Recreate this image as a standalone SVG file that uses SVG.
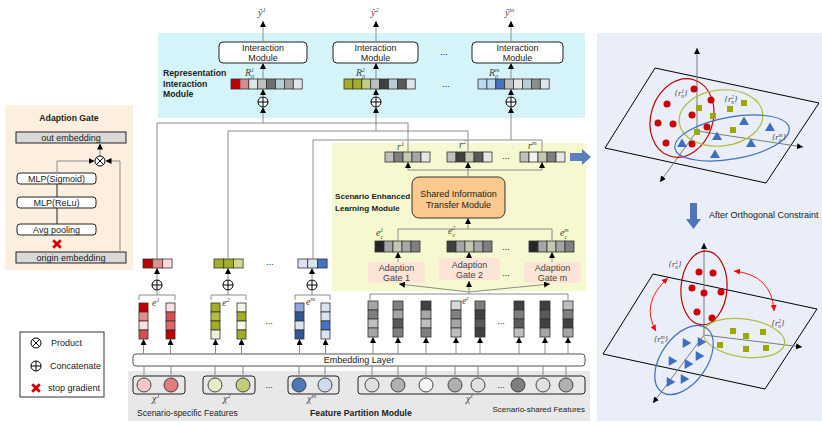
<svg xmlns="http://www.w3.org/2000/svg" width="822" height="423" viewBox="0 0 822 423">
<style>
text{font-family:"Liberation Sans","DejaVu Sans",sans-serif;font-size:9px;fill:#222}
.b{font-weight:bold;font-size:8.7px}
.m{text-anchor:middle}
.s{font-family:"Liberation Serif","DejaVu Serif",serif;font-style:italic;font-size:10px;fill:#444}
.t{font-family:"Liberation Serif","DejaVu Serif",serif;font-style:italic;font-size:8.5px;fill:#444;text-anchor:middle}
.g{fill:#444}
.ln{fill:none;stroke:#8c8c8c;stroke-width:1}
.bk{fill:none;stroke:#222;stroke-width:1}
.ar{fill:none;stroke:#8c8c8c;stroke-width:1;marker-end:url(#ah)}
.c rect{stroke:#333;stroke-width:0.8}
.box{fill:#fff;stroke:#222;stroke-width:1}
.gb{fill:#d9d9d9;stroke:#222;stroke-width:1}
.fc{stroke:#333;stroke-width:0.9}
.fb{fill:none;stroke:#222;stroke-width:1}
.gate{fill:#fce4d6}
.pl{fill:none;stroke:#000;stroke-width:1}
.ax{fill:none;stroke:#7a7a7a;stroke-width:1;marker-end:url(#ah)}
.re{fill:none;stroke:#c00000;stroke-width:1.2}
.oe{fill:none;stroke:#b3bb3a;stroke-width:1.2}
.be{fill:none;stroke:#3d6fc0;stroke-width:1.2}
.rr{fill:none;stroke:#f00;stroke-width:0.9;marker-start:url(#rh);marker-end:url(#rh)}
</style>
<defs>
<marker id="ah" markerUnits="userSpaceOnUse" markerWidth="6" markerHeight="6" viewBox="0 0 10 10" refX="10" refY="5" orient="auto"><path d="M0,0L10,5L0,10z" fill="#000"/></marker>
<marker id="rh" markerUnits="userSpaceOnUse" markerWidth="6" markerHeight="6" viewBox="0 0 10 10" refX="10" refY="5" orient="auto-start-reverse"><path d="M0,0L10,5L0,10z" fill="#f00"/></marker>
<g id="op"><circle r="5" fill="#fff" stroke="#000" stroke-width="1"/><path d="M-5,0H5M0,-5V5" stroke="#000" stroke-width="1"/></g>
<g id="ot"><circle r="5" fill="#fff" stroke="#000" stroke-width="1"/><path d="M-3.5,-3.5L3.5,3.5M-3.5,3.5L3.5,-3.5" stroke="#000" stroke-width="1"/></g>
<path id="rx" d="M-3.8,-3.8L3.8,3.8M-3.8,3.8L3.8,-3.8" stroke="#d40000" stroke-width="2.8"/>
<path id="tri" d="M0,-4.5L5,4L-5,4z" fill="#3d6fc0"/>
<rect id="sq" x="-3" y="-3" width="6" height="6" fill="#9ea700"/>
<circle id="dot" r="3.5" fill="#cc0000"/>
</defs>

<!-- backgrounds -->
<rect x="5" y="105" width="128" height="165" fill="#fcefdf"/>
<rect x="158" y="33" width="427" height="85" fill="#d5f4fa"/>
<rect x="332" y="143" width="254" height="148" fill="#f6f9cf"/>
<rect x="128" y="371" width="462" height="50" fill="#e8e8e8"/>
<rect x="597" y="33" width="225" height="388" fill="#e9eef8"/>

<!-- Adaption Gate detail -->
<g id="adaption-gate-detail">
<text class="b m" x="69" y="121">Adaption Gate</text>
<rect class="gb" x="16" y="132" width="110" height="11"/>
<text class="m" x="71" y="141">out embedding</text>
<rect class="box" x="17" y="173" width="79" height="11" rx="3"/>
<text class="m" x="56.5" y="181.5">MLP(Sigmoid)</text>
<rect class="box" x="17" y="197" width="79" height="11" rx="3"/>
<text class="m" x="56.5" y="205.5">MLP(ReLu)</text>
<rect class="box" x="17" y="224" width="79" height="11" rx="3"/>
<text class="m" x="56.5" y="232.5">Avg pooling</text>
<rect class="gb" x="16" y="252" width="110" height="11"/>
<text class="m" x="71" y="260.5">origin embedding</text>
<path class="bk" d="M57,184V197M57,208V224"/>
<use href="#rx" x="57" y="244"/>
<path class="ar" d="M57,173V161H94.5"/>
<path class="ar" d="M120,252V161H105.5"/>
<path class="ar" d="M100,156V143.5"/>
<use href="#ot" x="100" y="161"/>
</g>

<!-- legend -->
<g id="legend">
<rect x="20" y="332" width="84" height="65" fill="#fff" stroke="#333" stroke-width="1"/>
<use href="#ot" x="36" y="343"/>
<text x="51" y="346">Product</text>
<use href="#op" x="36" y="366"/>
<text x="50" y="369">Concatenate</text>
<use href="#rx" x="36" y="388"/>
<text x="48" y="391">stop gradient</text>
</g>

<!-- Representation Interaction Module -->
<g id="rep-interaction">
<text class="b" x="163" y="76">Representation</text>
<text class="b" x="163" y="86.5">Interaction</text>
<text class="b" x="163" y="97">Module</text>
</g>

<g id="interaction-1">
<text class="s" x="258" y="16">ŷ<tspan font-size="6.5" dy="-4">1</tspan></text>
<rect class="box" x="219" y="42" width="88" height="21" rx="4"/>
<text class="m" x="263" y="51">Interaction</text>
<text class="m" x="263" y="60.5">Module</text>
<text class="s" x="245" y="76">R<tspan font-size="6" dy="2.5">0</tspan><tspan font-size="6" dx="-3.2" dy="-6.5">1</tspan></text>
<g class="c">
<rect x="231" y="79" width="8.9" height="10" fill="#c00000"/><rect x="239.9" y="79" width="8.9" height="10" fill="#d98c8f"/><rect x="248.8" y="79" width="8.9" height="10" fill="#dde4ea"/><rect x="257.7" y="79" width="8.9" height="10" fill="#bfbfbf"/><rect x="266.6" y="79" width="8.9" height="10" fill="#6f6f6f"/><rect x="275.5" y="79" width="8.9" height="10" fill="#b7cfd4"/><rect x="284.4" y="79" width="8.9" height="10" fill="#a6a6a6"/><rect x="293.3" y="79" width="8.9" height="10" fill="#dfe6e9"/>
</g>
<use href="#op" x="263" y="102"/>
</g>

<g id="interaction-2">
<text class="s" x="371" y="16">ŷ<tspan font-size="6.5" dy="-4">2</tspan></text>
<rect class="box" x="333" y="42" width="85" height="21" rx="4"/>
<text class="m" x="375.5" y="51">Interaction</text>
<text class="m" x="375.5" y="60.5">Module</text>
<text class="s" x="356" y="76">R<tspan font-size="6" dy="2.5">0</tspan><tspan font-size="6" dx="-3.2" dy="-6.5">2</tspan></text>
<g class="c">
<rect x="344" y="79" width="8.9" height="10" fill="#a3ad28"/><rect x="352.9" y="79" width="8.9" height="10" fill="#a3ad28"/><rect x="361.8" y="79" width="8.9" height="10" fill="#c5cc85"/><rect x="370.7" y="79" width="8.9" height="10" fill="#bfbfbf"/><rect x="379.6" y="79" width="8.9" height="10" fill="#404040"/><rect x="388.5" y="79" width="8.9" height="10" fill="#b7cfd4"/><rect x="397.4" y="79" width="8.9" height="10" fill="#595959"/><rect x="406.3" y="79" width="8.9" height="10" fill="#dfe6e9"/>
</g>
<use href="#op" x="376" y="102"/>
</g>

<g id="interaction-m">
<text class="s" x="505" y="16">ŷ<tspan font-size="6.5" dy="-4">m</tspan></text>
<rect class="box" x="472" y="42" width="91" height="21" rx="4"/>
<text class="m" x="517.5" y="51">Interaction</text>
<text class="m" x="517.5" y="60.5">Module</text>
<text class="s" x="489" y="76">R<tspan font-size="6" dy="2.5">0</tspan><tspan font-size="6" dx="-3.2" dy="-6.5">m</tspan></text>
<g class="c">
<rect x="478" y="79" width="8.9" height="10" fill="#bdd7ee"/><rect x="486.9" y="79" width="8.9" height="10" fill="#bdd7ee"/><rect x="495.8" y="79" width="8.9" height="10" fill="#4472c4"/><rect x="504.7" y="79" width="8.9" height="10" fill="#bfbfbf"/><rect x="513.6" y="79" width="8.9" height="10" fill="#e7e6e6"/><rect x="522.5" y="79" width="8.9" height="10" fill="#b7cfd4"/><rect x="531.4" y="79" width="8.9" height="10" fill="#8c8c8c"/><rect x="540.3" y="79" width="8.9" height="10" fill="#dfe6e9"/>
</g>
<use href="#op" x="511" y="102"/>
</g>
<text class="m" x="444" y="55">...</text>
<text class="m" x="446" y="87">...</text>

<!-- Scenario Enhanced Learning Module -->
<g id="scenario-enhanced">
<text class="b" x="335" y="199" style="font-size:8.1px">Scenario Enhanced</text>
<text class="b" x="335" y="211" style="font-size:8.1px">Learning Module</text>
</g>

<g id="r-vectors">
<text class="s" x="397" y="150">r<tspan font-size="6.5" dy="-4">1</tspan></text>
<text class="s" x="459" y="148">r<tspan font-size="6.5" dy="-4">2</tspan></text>
<text class="s" x="528" y="149">r<tspan font-size="6.5" dy="-4">m</tspan></text>
<g class="c">
<rect x="385" y="152" width="9" height="10" fill="#bfbfbf"/><rect x="394" y="152" width="9" height="10" fill="#7f7f7f"/><rect x="403" y="152" width="9" height="10" fill="#c4c8b0"/><rect x="412" y="152" width="9" height="10" fill="#a6a6a6"/><rect x="421" y="152" width="9" height="10" fill="#e7e6e6"/>
<rect x="447" y="152" width="9" height="10" fill="#bfbfbf"/><rect x="456" y="152" width="9" height="10" fill="#404040"/><rect x="465" y="152" width="9" height="10" fill="#c4c8b0"/><rect x="474" y="152" width="9" height="10" fill="#595959"/><rect x="483" y="152" width="9" height="10" fill="#e7e6e6"/>
<rect x="520" y="152" width="9" height="10" fill="#bfbfbf"/><rect x="529" y="152" width="9" height="10" fill="#f2f2f2"/><rect x="538" y="152" width="9" height="10" fill="#c4c8b0"/><rect x="547" y="152" width="9" height="10" fill="#7f7f7f"/><rect x="556" y="152" width="9" height="10" fill="#e7e6e6"/>
</g>
<text class="m" x="506" y="159">...</text>
</g>

<g id="shared-transfer">
<rect x="412" y="177" width="93" height="41" rx="7" fill="#fbc98e" stroke="#333" stroke-width="1"/>
<text class="m" x="458.5" y="197">Shared Information</text>
<text class="m" x="458.5" y="208">Transfer Module</text>
</g>

<g id="ec-vectors">
<text class="s" x="376" y="236">e<tspan font-size="6" dy="2.5">c</tspan><tspan font-size="6" dx="-2.8" dy="-6.5">1</tspan></text>
<text class="s" x="448" y="234">e<tspan font-size="6" dy="2.5">c</tspan><tspan font-size="6" dx="-2.8" dy="-6.5">2</tspan></text>
<text class="s" x="560" y="236">e<tspan font-size="6" dy="2.5">c</tspan><tspan font-size="6" dx="-2.8" dy="-6.5">m</tspan></text>
<g class="c">
<rect x="375" y="241" width="9" height="11" fill="#262626"/><rect x="384" y="241" width="9" height="11" fill="#a6a6a6"/><rect x="393" y="241" width="9" height="11" fill="#c4c8b0"/><rect x="402" y="241" width="9" height="11" fill="#a6a6a6"/><rect x="411" y="241" width="9" height="11" fill="#7f7f7f"/>
<rect x="447" y="241" width="9" height="11" fill="#404040"/><rect x="456" y="241" width="9" height="11" fill="#a6a6a6"/><rect x="465" y="241" width="9" height="11" fill="#c4c8b0"/><rect x="474" y="241" width="9" height="11" fill="#a6a6a6"/><rect x="483" y="241" width="9" height="11" fill="#7f7f7f"/>
<rect x="529" y="241" width="9" height="11" fill="#262626"/><rect x="538" y="241" width="9" height="11" fill="#a6a6a6"/><rect x="547" y="241" width="9" height="11" fill="#c4c8b0"/><rect x="556" y="241" width="9" height="11" fill="#a6a6a6"/><rect x="565" y="241" width="9" height="11" fill="#7f7f7f"/>
</g>
<text class="m" x="506" y="250">...</text>
</g>

<g id="gate-1">
<rect class="gate" x="368" y="262" width="57" height="21" rx="3"/>
<text class="m g" x="396.5" y="271">Adaption</text>
<text class="m g" x="396.5" y="281">Gate 1</text>
</g>
<g id="gate-2">
<rect class="gate" x="439" y="258" width="61" height="22" rx="3"/>
<text class="m g" x="469.5" y="268">Adaption</text>
<text class="m g" x="469.5" y="278">Gate 2</text>
</g>
<g id="gate-m">
<rect class="gate" x="524" y="262" width="57" height="21" rx="3"/>
<text class="m g" x="552.5" y="271">Adaption</text>
<text class="m g" x="552.5" y="281">Gate m</text>
</g>
<text class="m" x="506" y="276">...</text>

<!-- scenario-specific concatenated vectors -->
<g id="e1-concat">
<g class="c"><rect x="143" y="259" width="9.7" height="9" fill="#c00000"/><rect x="152.7" y="259" width="9.7" height="9" fill="#e08f92"/><rect x="162.4" y="259" width="9.7" height="9" fill="#fadadb"/></g>
<use href="#op" x="157" y="285"/>
</g>
<g id="e2-concat">
<g class="c"><rect x="214" y="259" width="9.7" height="9" fill="#a3ad28"/><rect x="223.7" y="259" width="9.7" height="9" fill="#a3ad28"/><rect x="233.4" y="259" width="9.7" height="9" fill="#d2d78f"/></g>
<use href="#op" x="228" y="285"/>
</g>
<g id="em-concat">
<g class="c"><rect x="298" y="259" width="9.7" height="9" fill="#dae3f3"/><rect x="307.7" y="259" width="9.7" height="9" fill="#dae3f3"/><rect x="317.4" y="259" width="9.7" height="9" fill="#4472c4"/></g>
<use href="#op" x="312" y="285"/>
</g>
<text class="m" x="270" y="265">...</text>

<!-- embeddings -->
<g id="e1">
<text class="s" x="152" y="306">e<tspan font-size="6.5" dy="-4">1</tspan></text>
<g class="c">
<rect x="139" y="303" width="9" height="9" fill="#c00000"/><rect x="139" y="312" width="9" height="9" fill="#e48f8f"/><rect x="139" y="321" width="9" height="9" fill="#fbe0e0"/><rect x="139" y="330" width="9" height="9" fill="#d94f4f"/>
<rect x="166" y="303" width="9" height="9" fill="#fbe0e0"/><rect x="166" y="312" width="9" height="9" fill="#d94f4f"/><rect x="166" y="321" width="9" height="9" fill="#e06666"/><rect x="166" y="330" width="9" height="9" fill="#c00000"/>
</g>
</g>
<g id="e2">
<text class="s" x="222" y="306">e<tspan font-size="6.5" dy="-4">2</tspan></text>
<g class="c">
<rect x="211" y="303" width="9" height="9" fill="#a3ad28"/><rect x="211" y="312" width="9" height="9" fill="#b5bc45"/><rect x="211" y="321" width="9" height="9" fill="#a3ad28"/><rect x="211" y="330" width="9" height="9" fill="#eef1d9"/>
<rect x="237" y="303" width="9" height="9" fill="#f2f4e0"/><rect x="237" y="312" width="9" height="9" fill="#a3ad28"/><rect x="237" y="321" width="9" height="9" fill="#f6f8ea"/><rect x="237" y="330" width="9" height="9" fill="#a3ad28"/>
</g>
</g>
<g id="em">
<text class="s" x="306" y="305">e<tspan font-size="6.5" dy="-4">m</tspan></text>
<g class="c">
<rect x="295" y="303" width="9" height="9" fill="#8faadc"/><rect x="295" y="312" width="9" height="9" fill="#2f5597"/><rect x="295" y="321" width="9" height="9" fill="#dae3f3"/><rect x="295" y="330" width="9" height="9" fill="#2f5597"/>
<rect x="321" y="303" width="9" height="9" fill="#dae3f3"/><rect x="321" y="312" width="9" height="9" fill="#dae3f3"/><rect x="321" y="321" width="9" height="9" fill="#4472c4"/><rect x="321" y="330" width="9" height="9" fill="#dae3f3"/>
</g>
</g>
<text class="m" x="269" y="324">...</text>

<g id="ec">
<text class="s" x="462" y="304">e<tspan font-size="6.5" dy="-4">c</tspan></text>
<g class="c">
<rect x="368" y="301" width="10" height="9" fill="#a6a6a6"/><rect x="368" y="310" width="10" height="9" fill="#7f7f7f"/><rect x="368" y="319" width="10" height="9" fill="#bfbfbf"/><rect x="368" y="328" width="10" height="9" fill="#a6a6a6"/>
<rect x="393" y="301" width="10" height="9" fill="#7f7f7f"/><rect x="393" y="310" width="10" height="9" fill="#a6a6a6"/><rect x="393" y="319" width="10" height="9" fill="#595959"/><rect x="393" y="328" width="10" height="9" fill="#7f7f7f"/>
<rect x="421" y="301" width="10" height="9" fill="#404040"/><rect x="421" y="310" width="10" height="9" fill="#a6a6a6"/><rect x="421" y="319" width="10" height="9" fill="#bfbfbf"/><rect x="421" y="328" width="10" height="9" fill="#7f7f7f"/>
<rect x="451" y="301" width="10" height="9" fill="#d9d9d9"/><rect x="451" y="310" width="10" height="9" fill="#7f7f7f"/><rect x="451" y="319" width="10" height="9" fill="#a6a6a6"/><rect x="451" y="328" width="10" height="9" fill="#bfbfbf"/>
<rect x="475" y="301" width="10" height="9" fill="#7f7f7f"/><rect x="475" y="310" width="10" height="9" fill="#404040"/><rect x="475" y="319" width="10" height="9" fill="#595959"/><rect x="475" y="328" width="10" height="9" fill="#404040"/>
<rect x="514" y="301" width="10" height="9" fill="#404040"/><rect x="514" y="310" width="10" height="9" fill="#7f7f7f"/><rect x="514" y="319" width="10" height="9" fill="#595959"/><rect x="514" y="328" width="10" height="9" fill="#bfbfbf"/>
<rect x="540" y="301" width="10" height="9" fill="#404040"/><rect x="540" y="310" width="10" height="9" fill="#595959"/><rect x="540" y="319" width="10" height="9" fill="#404040"/><rect x="540" y="328" width="10" height="9" fill="#a6a6a6"/>
<rect x="563" y="301" width="10" height="9" fill="#bfbfbf"/><rect x="563" y="310" width="10" height="9" fill="#7f7f7f"/><rect x="563" y="319" width="10" height="9" fill="#404040"/><rect x="563" y="328" width="10" height="9" fill="#a6a6a6"/>
</g>
<text class="m" x="501" y="324">...</text>
</g>

<g id="embedding-layer">
<rect x="133" y="354" width="452" height="12" rx="3" fill="#fff" stroke="#555" stroke-width="1"/>
<text class="m" x="359" y="363">Embedding Layer</text>
</g>

<!-- features -->
<g id="x1">
<rect class="fb" x="133" y="376" width="52" height="18" rx="3"/>
<circle class="fc" cx="144" cy="385" r="7" fill="#f4c7c9"/>
<circle class="fc" cx="171" cy="385" r="7" fill="#e07b7e"/>
<text class="s" x="152" y="402">χ<tspan font-size="6.5" dy="-4">1</tspan></text>
</g>
<g id="x2">
<rect class="fb" x="203" y="376" width="52" height="18" rx="3"/>
<circle class="fc" cx="215" cy="385" r="7" fill="#e6ebc7"/>
<circle class="fc" cx="243" cy="385" r="7" fill="#c4cb7a"/>
<text class="s" x="223" y="402">χ<tspan font-size="6.5" dy="-4">2</tspan></text>
</g>
<text class="m" x="269" y="388">...</text>
<g id="xm">
<rect class="fb" x="288" y="376" width="51" height="18" rx="3"/>
<circle class="fc" cx="299" cy="385" r="7" fill="#4f78b8"/>
<circle class="fc" cx="325" cy="385" r="7" fill="#cfdcec"/>
<text class="s" x="307" y="402">χ<tspan font-size="6.5" dy="-4">m</tspan></text>
</g>
<g id="xc">
<rect class="fb" x="358" y="376" width="227" height="18" rx="3"/>
<circle class="fc" cx="372" cy="385" r="7" fill="#e0e0e0"/>
<circle class="fc" cx="398" cy="385" r="7" fill="#b0b0b0"/>
<circle class="fc" cx="426" cy="385" r="7" fill="#f4f4f4"/>
<circle class="fc" cx="455" cy="385" r="7" fill="#b0b0b0"/>
<circle class="fc" cx="478" cy="385" r="7" fill="#e0e0e0"/>
<text class="m" x="501" y="388">...</text>
<circle class="fc" cx="518" cy="385" r="7" fill="#7f7f7f"/>
<circle class="fc" cx="543" cy="385" r="7" fill="#e0e0e0"/>
<circle class="fc" cx="566" cy="385" r="7" fill="#b0b0b0"/>
<text class="s" x="466" y="402">χ<tspan font-size="6.5" dy="-4">c</tspan></text>
</g>
<text x="137" y="416" fill="#333" style="font-size:8.5px">Scenario-specific Features</text>
<text class="b" x="310" y="416">Feature Partition Module</text>
<text x="585" y="412" fill="#333" style="font-size:8px;text-anchor:end">Scenario-shared Features</text>

<!-- connectors -->
<g id="connectors">
<path class="ar" d="M263,42V21"/>
<path class="ar" d="M376,42V21"/>
<path class="ar" d="M511,42V21"/>
<path class="ar" d="M263,79V63"/>
<path class="ar" d="M376,79V63"/>
<path class="ar" d="M511,79V63"/>
<path class="ar" d="M263,97V89"/>
<path class="ar" d="M376,97V89"/>
<path class="ar" d="M511,97V89"/>
<path class="ln" d="M157,259V123H408V152"/>
<path class="ln" d="M228,259V131H468V152"/>
<path class="ln" d="M313,259V140H542V152"/>
<path class="ar" d="M263,123V107"/>
<path class="ar" d="M376,131V107"/>
<path class="ar" d="M511,140V107"/>
<path class="ln" d="M468,177V170M408,170H542"/>
<path class="ar" d="M408,170V162"/>
<path class="ar" d="M468,170V162"/>
<path class="ar" d="M542,170V162"/>
<path class="ln" d="M398,241V229H552V241"/>
<path class="ar" d="M468,229V218"/>
<path class="ar" d="M398,262V252"/>
<path class="ar" d="M469,258V252"/>
<path class="ar" d="M552,262V252"/>
<path class="ln" d="M370,300V294H568V300M469,294V292"/>
<path class="ar" d="M469,292L399,284"/>
<path class="ar" d="M469,292V281"/>
<path class="ar" d="M469,292L550,284"/>
<path class="ln" d="M139,300V295H175V300M157,295V290"/>
<path class="ln" d="M211,300V295H246V300M228,295V290"/>
<path class="ln" d="M295,300V295H330V300M312,295V290"/>
<path class="ar" d="M157,280V268"/>
<path class="ar" d="M228,280V268"/>
<path class="ar" d="M312,280V268"/>
<path class="ar" d="M143.5,354V339"/>
<path class="ar" d="M170.5,354V339"/>
<path class="ar" d="M215.5,354V339"/>
<path class="ar" d="M241.5,354V339"/>
<path class="ar" d="M299.5,354V339"/>
<path class="ar" d="M325.5,354V339"/>
<path class="ar" d="M373,354V337"/>
<path class="ar" d="M398,354V337"/>
<path class="ar" d="M426,354V337"/>
<path class="ar" d="M456,354V337"/>
<path class="ar" d="M480,354V337"/>
<path class="ar" d="M519,354V337"/>
<path class="ar" d="M545,354V337"/>
<path class="ar" d="M568,354V337"/>
<path class="ln" d="M144,366V378M171,366V378M215,366V378M243,366V378M299,366V378M325,366V378M372,366V378M398,366V378M426,366V378M455,366V378M478,366V378M518,366V378M543,366V378M566,366V378"/>
<path d="M570,153H582V149L591,157L582,165V161H570Z" fill="#5b80c0"/>
</g>

<!-- right panel: before -->
<g id="space-before">
<polygon class="pl" points="605,148 655,68 819,103 766,183"/>
<path class="ax" d="M697,131V48"/>
<path class="ax" d="M697,131L803,147"/>
<path class="ax" d="M697,131L660,182"/>
<ellipse class="re" cx="682" cy="118" rx="31" ry="40" transform="rotate(18 682 118)"/>
<ellipse class="oe" cx="721" cy="118" rx="42" ry="28" transform="rotate(-6 721 118)"/>
<ellipse class="be" cx="732" cy="138" rx="58" ry="21" transform="rotate(-10 732 138)"/>
<use href="#dot" x="694" y="89"/><use href="#dot" x="667" y="104"/><use href="#dot" x="711" y="100"/><use href="#dot" x="692" y="115"/><use href="#dot" x="658" y="123"/><use href="#dot" x="673" y="124"/><use href="#dot" x="707" y="127"/><use href="#dot" x="666" y="143"/><use href="#dot" x="692" y="144"/>
<use href="#sq" x="699" y="108"/><use href="#sq" x="713" y="116"/><use href="#sq" x="730" y="109"/><use href="#sq" x="744" y="103"/><use href="#sq" x="697" y="132"/><use href="#sq" x="733" y="130"/>
<use href="#tri" x="744" y="121"/><use href="#tri" x="770" y="127"/><use href="#tri" x="717" y="136"/><use href="#tri" x="682" y="143"/><use href="#tri" x="751" y="143"/><use href="#tri" x="715" y="154"/>
<text class="t" x="681" y="96">{r<tspan font-size="5.5" dy="2">n</tspan><tspan font-size="5.5" dx="-2.8" dy="-5.5">1</tspan><tspan dy="3.5">}</tspan></text>
<text class="t" x="731" y="102">{r<tspan font-size="5.5" dy="2">n</tspan><tspan font-size="5.5" dx="-2.8" dy="-5.5">2</tspan><tspan dy="3.5">}</tspan></text>
<text class="t" x="779" y="140">{r<tspan font-size="5.5" dy="2">n</tspan><tspan font-size="5.5" dx="-2.8" dy="-5.5">m</tspan><tspan dy="3.5">}</tspan></text>
</g>

<g id="orth-arrow">
<path d="M690,203H697V219H701L693.5,229L686,219H690Z" fill="#4f75b8"/>
<text x="709" y="218" fill="#333">After Orthogonal Constraint</text>
</g>

<!-- right panel: after -->
<g id="space-after">
<polygon class="pl" points="653,274 817,309 765,389 603,354"/>
<path class="ax" d="M704,335V243"/>
<path class="ax" d="M704,335L802,347"/>
<path class="ax" d="M704,335L653,403"/>
<ellipse class="re" cx="704" cy="288" rx="23" ry="37" transform="rotate(4 704 288)"/>
<ellipse class="oe" cx="744" cy="338" rx="41" ry="19" transform="rotate(8 744 338)"/>
<ellipse class="be" cx="684" cy="360" rx="23" ry="39" transform="rotate(35 684 360)"/>
<use href="#dot" x="699" y="272"/><use href="#dot" x="713" y="273"/><use href="#dot" x="692" y="288"/><use href="#dot" x="704" y="293"/><use href="#dot" x="721" y="292"/><use href="#dot" x="697" y="312"/><use href="#dot" x="712" y="318"/>
<use href="#sq" x="733" y="331"/><use href="#sq" x="746" y="336"/><use href="#sq" x="763" y="332"/><use href="#sq" x="720" y="345"/><use href="#sq" x="746" y="349"/><use href="#sq" x="766" y="348"/>
<use href="#tri" transform="translate(685,342) rotate(-30)"/><use href="#tri" transform="translate(700,341) rotate(-30)"/><use href="#tri" transform="translate(671,360) rotate(-30)"/><use href="#tri" transform="translate(687,363) rotate(-30)"/><use href="#tri" transform="translate(698,355) rotate(-30)"/><use href="#tri" transform="translate(669,381) rotate(-30)"/><use href="#tri" transform="translate(683,378) rotate(-30)"/>
<text class="t" x="675" y="267">{r<tspan font-size="5.5" dy="2">n</tspan><tspan font-size="5.5" dx="-2.8" dy="-5.5">1</tspan><tspan dy="3.5">}</tspan></text>
<text class="t" x="778" y="326">{r<tspan font-size="5.5" dy="2">n</tspan><tspan font-size="5.5" dx="-2.8" dy="-5.5">2</tspan><tspan dy="3.5">}</tspan></text>
<text class="t" x="661" y="342">{r<tspan font-size="5.5" dy="2">n</tspan><tspan font-size="5.5" dx="-2.8" dy="-5.5">m</tspan><tspan dy="3.5">}</tspan></text>
<path class="rr" d="M668,278Q640,303 656,331"/>
<path class="rr" d="M734,271Q772,275 774,311"/>
</g>
</svg>
